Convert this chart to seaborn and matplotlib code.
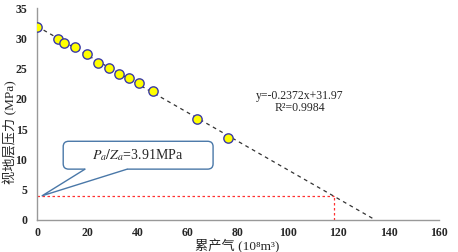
import numpy as np
import matplotlib
matplotlib.use('Agg')
import matplotlib.pyplot as plt
from matplotlib.patches import FancyBboxPatch, Polygon
import seaborn as sns
import pandas as pd

# cumulative gas production (10^8 m3) and apparent pressure P/Z (MPa)
gp = [0.0, 8.4, 10.9, 15.1, 19.9, 24.2, 28.8, 32.5, 36.8, 40.6, 46.1, 63.6, 76.2]
pz = [31.85, 29.9, 29.2, 28.6, 27.4, 26.0, 25.1, 24.1, 23.5, 22.7, 21.3, 16.7, 13.6]
slope = -0.2372
intercept = 31.97
r2 = 0.9984
pa_za = 3.91
xticks = [0, 20, 40, 60, 80, 100, 120, 140, 160]
yticks = [0, 5, 10, 15, 20, 25, 30, 35]

df = pd.DataFrame({'gp': gp, 'pz': pz})

sns.set_theme(style='white')
plt.rcParams['font.family'] = ['Liberation Serif', 'Noto Sans CJK SC']
plt.rcParams['mathtext.fontset'] = 'stix'

fig = plt.figure(figsize=(4.58, 2.52), dpi=100)
ax = fig.add_axes([0.081, 0.127, 0.877, 0.841])

# trend line down to zero pressure
x_end = -intercept / slope
xl = np.array([0, x_end])
ax.plot(xl, slope * xl + intercept, ls=(0, (3, 3)), color='#333333', lw=0.9, zorder=2)

sns.scatterplot(data=df, x='gp', y='pz', ax=ax, s=45, color='#ffff00',
                edgecolor='#3a3aa8', linewidth=1.0, zorder=3)

# abandonment pressure
x_ab = (pa_za - intercept) / slope
ax.plot([0, x_ab], [pa_za, pa_za], ls=(0, (2, 2)), color='#ff3030', lw=0.9)
ax.plot([x_ab, x_ab], [0, pa_za], ls=(0, (2, 2)), color='#ff3030', lw=0.9)

ax.text(104.6, 20.5, f'y={slope}x+{intercept}', fontsize=8.5, ha='center', va='center')
ax.text(104.6, 18.5, f'R²={r2}', fontsize=8.5, ha='center', va='center')

# callout box with pointer to the abandonment pressure
edge = '#4a78a8'
box = FancyBboxPatch((10.4, 8.4), 59.7, 4.6, boxstyle='round,pad=0,rounding_size=2.2',
                     mutation_aspect=0.4, fc='white', ec=edge, lw=1.0, zorder=5)
ax.add_patch(box)
tip = (2.0, 4.0)
b0, b1 = (19.1, 8.4), (35.9, 8.4)
ax.add_patch(Polygon([tip, b0, (b0[0], 8.7), (b1[0], 8.7), b1], closed=True,
                     fc='white', ec='none', zorder=6))
ax.plot([b0[0], tip[0], b1[0]], [b0[1], tip[1], b1[1]], color=edge, lw=1.0, zorder=7)
ax.text(40.2, 10.7, r'$P_a/Z_a$=3.91MPa', fontsize=10, ha='center', va='center', zorder=8)

ax.set_xlim(0, 160)
ax.set_ylim(0, 35)
ax.set_xticks(xticks)
ax.set_yticks(yticks)
ax.tick_params(axis='both', labelsize=8.5, length=3, width=0.8, color='#888888',
               direction='out')
ax.tick_params(axis='x', pad=2)
ax.tick_params(axis='y', pad=4)
for lab in ax.get_xticklabels() + ax.get_yticklabels():
    lab.set_fontweight('bold')
for s in ['top', 'right']:
    ax.spines[s].set_visible(False)
for s in ['left', 'bottom']:
    ax.spines[s].set_color('#999999')
    ax.spines[s].set_linewidth(1.0)

ax.set_xlabel('累产气 (10⁸m³)', fontsize=9.5)
ax.set_ylabel('视地层压力 (MPa)', fontsize=9.5)
ax.xaxis.set_label_coords(0.497, -0.088)
ax.yaxis.set_label_coords(-0.05, 0.415)

fig.savefig('out.png', dpi=100)
